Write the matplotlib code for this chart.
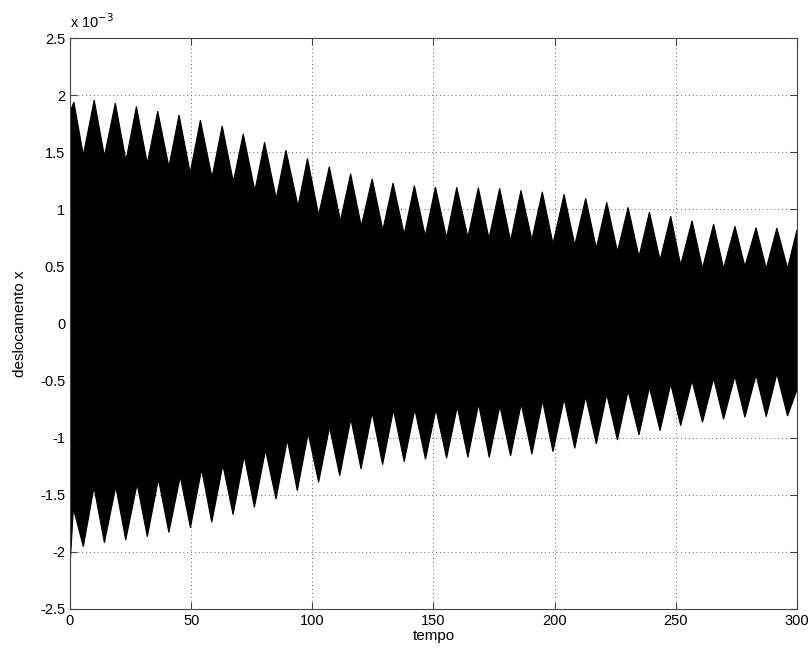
import matplotlib
matplotlib.use("Agg")
import matplotlib.pyplot as plt
import numpy as np

# Upper envelope of the displacement signal (x 1e-3)
upper_t = [0, 1.6, 5.5, 10.0, 14.2, 18.7, 23.1, 27.4, 31.9, 36.2, 40.8, 45.0, 49.6, 53.8,
           58.6, 62.8, 67.4, 71.5, 76.3, 80.3, 85.1, 89.1, 94.1, 98.0, 102.6, 107.0, 111.6,
           115.8, 120.2, 124.7, 129.1, 133.3, 137.9, 142.1, 146.6, 150.8, 155.4, 159.6, 164.2,
           168.5, 172.9, 177.3, 181.8, 186.1, 190.6, 194.9, 199.3, 203.9, 208.3, 212.8, 217.2,
           221.5, 225.9, 230.3, 234.8, 239.1, 243.5, 247.9, 252.0, 256.7, 261.0, 265.6, 269.7,
           274.4, 278.5, 283.1, 287.3, 291.7, 296.1, 300]
upper_v = [1.85, 1.94, 1.475, 1.957, 1.467, 1.93, 1.426, 1.90, 1.403, 1.86, 1.373, 1.826, 1.32,
           1.78, 1.28, 1.73, 1.242, 1.66, 1.163, 1.587, 1.096, 1.517, 1.029, 1.445, 0.95, 1.373,
           0.90, 1.312, 0.854, 1.268, 0.819, 1.23, 0.781, 1.207, 0.766, 1.195, 0.751, 1.193,
           0.755, 1.189, 0.746, 1.184, 0.725, 1.166, 0.735, 1.153, 0.70, 1.131, 0.687, 1.096,
           0.66, 1.061, 0.63, 1.017, 0.585, 0.976, 0.556, 0.939, 0.512, 0.90, 0.483, 0.871,
           0.483, 0.851, 0.50, 0.839, 0.483, 0.836, 0.483, 0.82]

# Lower envelope
lower_t = [0, 1.4, 5.5, 9.9, 14.2, 18.9, 23.0, 27.7, 31.9, 36.5, 40.8, 45.5, 49.7, 54.3, 58.5,
           63.1, 67.3, 71.9, 76.1, 80.7, 85.0, 89.7, 93.8, 98.3, 102.6, 107.1, 111.3, 115.9,
           120.1, 124.7, 129.0, 133.5, 137.9, 142.3, 146.7, 151.0, 155.4, 159.8, 164.2, 168.6,
           173.0, 177.4, 181.8, 186.2, 190.6, 195.0, 199.3, 203.9, 208.3, 212.8, 217.2, 221.5,
           225.9, 230.3, 234.8, 239.1, 243.5, 247.9, 252.0, 256.7, 261.0, 265.6, 269.7, 274.4,
           278.5, 283.1, 287.3, 291.7, 296.1, 300]
lower_v = [-2.13, -1.62, -1.955, -1.434, -1.92, -1.429, -1.896, -1.405, -1.867, -1.364, -1.83,
           -1.341, -1.788, -1.277, -1.741, -1.239, -1.674, -1.16, -1.61, -1.108, -1.537, -1.02,
           -1.464, -0.962, -1.39, -0.909, -1.333, -0.836, -1.274, -0.781, -1.236, -0.757, -1.21,
           -0.751, -1.19, -0.751, -1.18, -0.729, -1.172, -0.705, -1.172, -0.722, -1.16, -0.705,
           -1.145, -0.676, -1.122, -0.66, -1.093, -0.64, -1.055, -0.62, -1.02, -0.59, -0.976,
           -0.56, -0.939, -0.53, -0.895, -0.50, -0.865, -0.48, -0.839, -0.46, -0.821, -0.45,
           -0.816, -0.44, -0.81, -0.58]

xticks = [0, 50, 100, 150, 200, 250, 300]
yticks = [-2.5, -2, -1.5, -1, -0.5, 0, 0.5, 1, 1.5, 2, 2.5]
scale = 1e-3

plt.rcParams['font.family'] = ['Liberation Sans', 'DejaVu Sans']

fig = plt.figure(figsize=(8.12, 6.58), dpi=100)
ax = fig.add_axes([70/812, 1-609/658, (797-70)/812, (609-38)/658])

poly_x = list(upper_t) + list(reversed(lower_t))
poly_y = [v*scale for v in upper_v] + [v*scale for v in reversed(lower_v)]
ax.fill(poly_x, poly_y, color='black', lw=0.8, edgecolor='black')

ax.set_xlim(0, 300)
ax.set_ylim(-2.5*scale, 2.5*scale)
ax.set_xticks(xticks)
ax.set_xticklabels([str(t) for t in xticks])
ax.set_yticks([y*scale for y in yticks])
ax.set_yticklabels([('%g' % y) for y in yticks])
ax.grid(True, linestyle=(0, (1, 3)), color='#666666', linewidth=0.7)
ax.set_axisbelow(True)
ax.tick_params(direction='in', top=True, right=True, labelsize=10.5, length=5, color='#444444')
for s in ax.spines.values():
    s.set_color('#444444')
    s.set_linewidth(0.8)

ax.set_xlabel('tempo', fontsize=11, labelpad=1)
ax.set_ylabel('deslocamento x', fontsize=11)
ax.yaxis.set_label_coords(-43/727, 0.5)
fig.text(70/812, 1-28/658, 'x 10$^{-3}$', fontsize=10.5, ha='left', va='baseline')

fig.savefig('out.png', dpi=100)
